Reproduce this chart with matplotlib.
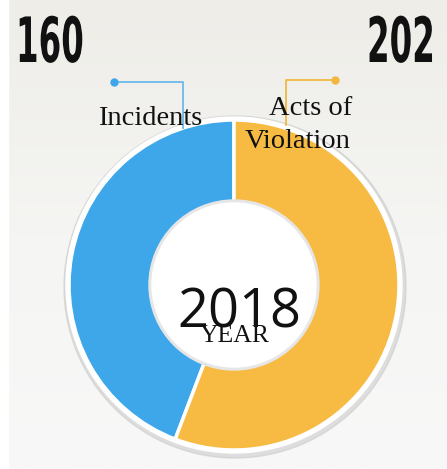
import numpy as np
import matplotlib
matplotlib.use("Agg")
import matplotlib.pyplot as plt
from matplotlib.patches import Circle, Rectangle
from matplotlib.colors import LinearSegmentedColormap
from matplotlib.patheffects import AbstractPathEffect
from matplotlib.transforms import Affine2D

# Data
categories = ["Incidents", "Acts of", "Violation"]
values = [160, 202]
year_label = "2018"
year_caption = "YEAR"

blue = "#3ea7e9"
orange = "#f7bb43"


class HorizontalSqueeze(AbstractPathEffect):
    """Narrow glyphs horizontally about the text origin (condensed display digits)."""

    def __init__(self, sx):
        super().__init__()
        self.sx = sx

    def draw_path(self, renderer, gc, tpath, affine, rgbFace=None):
        renderer.draw_path(gc, tpath, Affine2D().scale(self.sx, 1) + affine, rgbFace)


W, H = 447, 469
fig = plt.figure(figsize=(W / 100, H / 100), dpi=100)
ax = fig.add_axes([0, 0, 1, 1])
ax.set_xlim(0, W)
ax.set_ylim(0, H)
ax.axis("off")

# Soft background wash, slightly warmer at the top
grad = np.linspace(0, 1, 256).reshape(-1, 1)
cmap = LinearSegmentedColormap.from_list("bg", ["#f8f8f8", "#f5f5f3", "#eeede8"])
ax.imshow(grad, extent=(8, W, 0, H), origin="lower", cmap=cmap, aspect="auto", zorder=0)
ax.add_patch(Rectangle((0, 0), 8, H, color="white", zorder=0.5))

cx, cy, R = 234, 469 - 285, 165

# Drop shadow and white rim behind the ring
ax.add_patch(Circle((cx + 1, cy - 2), R + 6, color="#c9c9c9", alpha=0.55, zorder=1))
ax.add_patch(Circle((cx, cy), R + 3, color="white", zorder=1.5))

wedges, _ = ax.pie(values, colors=[blue, orange], startangle=90, counterclock=True,
                   center=(cx, cy), radius=R, frame=True,
                   wedgeprops=dict(edgecolor="white", linewidth=2.5))
for w in wedges:
    w.set_zorder(2)
ax.set_xlim(0, W)
ax.set_ylim(0, H)
ax.axis("off")

# Inner hole
ax.add_patch(Circle((cx, cy), 85, color="#e6e6e6", zorder=3))
ax.add_patch(Circle((cx, cy), 82, color="white", zorder=3.5))

# Totals at the top corners
big = dict(family="DejaVu Sans", fontweight="bold", fontsize=45, color="#111111",
           ha="left", va="baseline", zorder=5,
           path_effects=[HorizontalSqueeze(0.52)])
ax.text(16, H - 62, str(values[0]), **big)
ax.text(367, H - 62, str(values[1]), **big)

# Callout connectors
ax.plot([114, 183, 183], [H - 82, H - 82, H - 128], color="#6bb9ea", lw=1.3, zorder=4)
ax.plot(114, H - 82, "o", color="#3ea7e9", ms=5, zorder=4)
ax.plot([335, 286, 286], [H - 80, H - 80, H - 125], color="#f0b840", lw=1.3, zorder=4)
ax.plot(335, H - 80, "o", color="#f0b840", ms=5, zorder=4)

serif = ["Liberation Serif", "DejaVu Serif"]
lab = dict(family=serif, fontsize=20.5, va="baseline", color="#111111", zorder=6)
ax.text(98, H - 125, categories[0], ha="left", **lab)
ax.text(352, H - 115, categories[1], ha="right", **lab)
ax.text(351, H - 148, categories[2], ha="right", **lab)

# Year in the centre
ax.text(239, H - 327, year_label, family=["Open Sans", "DejaVu Sans"], fontsize=39,
        ha="center", va="baseline", color="#111111", zorder=6)
ax.text(235, H - 342, year_caption, family=serif, fontsize=18.5, ha="center",
        va="baseline", color="#111111", zorder=7)

fig.savefig("out.png", dpi=100)
